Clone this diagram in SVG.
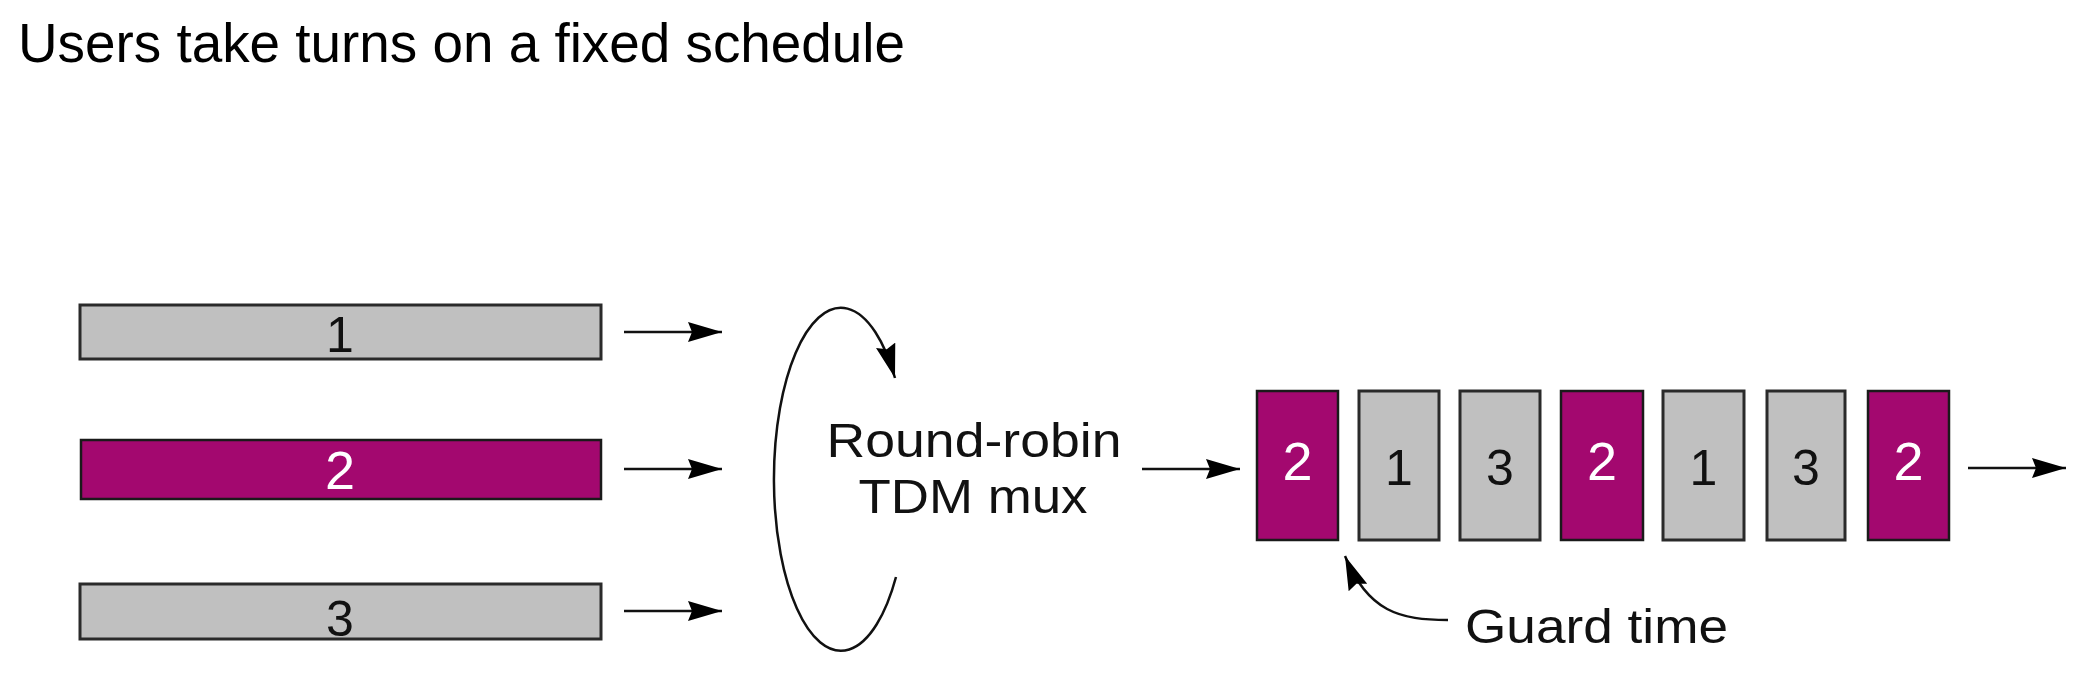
<svg xmlns="http://www.w3.org/2000/svg" width="2086" height="690" viewBox="0 0 2086 690">
  <style>
    text { font-family: "Liberation Sans", Arial, Helvetica, sans-serif; }
    .title { font-size: 56px; fill: #000; }
    .lbl { font-size: 48px; fill: #111; }
    .gray { fill: #c0c0c0; stroke: #2a2a2a; stroke-width: 3; }
    .purple { fill: #a3086f; stroke: #1a1a1a; stroke-width: 2.5; }
    .dk { font-size: 50px; fill: #111; text-anchor: middle; }
    .wt { font-size: 54px; fill: #fff; text-anchor: middle; }
    .conn { fill: none; stroke: #111; stroke-width: 2.5; }
  </style>
  <defs>
    <marker id="ah" markerUnits="userSpaceOnUse" markerWidth="34" markerHeight="20" refX="34" refY="10" orient="auto" viewBox="0 0 34 20">
      <path d="M0,0 L34,10 L0,20 L4,10 z" fill="#000"/>
    </marker>
  </defs>
  <rect width="2086" height="690" fill="#fff"/>

  <text id="title" class="title" x="18" y="62" textLength="887" lengthAdjust="spacingAndGlyphs">Users take turns on a fixed schedule</text>

  <g id="input1">
    <rect class="gray" x="80" y="305" width="521" height="54"/>
    <text class="dk" x="340" y="352">1</text>
  </g>
  <g id="input2">
    <rect class="purple" x="81" y="440" width="520" height="59"/>
    <text class="wt" x="340" y="489">2</text>
  </g>
  <g id="input3">
    <rect class="gray" x="80" y="584" width="521" height="55"/>
    <text class="dk" x="340" y="636">3</text>
  </g>

  <g id="mux">
    <text class="lbl" x="974" y="457" text-anchor="middle" textLength="295" lengthAdjust="spacingAndGlyphs">Round-robin</text>
    <text class="lbl" x="973" y="513" text-anchor="middle" textLength="229" lengthAdjust="spacingAndGlyphs">TDM mux</text>
  </g>

  <g id="slot1"><rect class="purple" x="1257" y="391" width="81" height="149"/><text class="wt" x="1297.5" y="480">2</text></g>
  <g id="slot2"><rect class="gray" x="1359" y="391" width="80" height="149"/><text class="dk" x="1399" y="485">1</text></g>
  <g id="slot3"><rect class="gray" x="1460" y="391" width="80" height="149"/><text class="dk" x="1500" y="485">3</text></g>
  <g id="slot4"><rect class="purple" x="1561" y="391" width="82" height="149"/><text class="wt" x="1602" y="480">2</text></g>
  <g id="slot5"><rect class="gray" x="1663" y="391" width="81" height="149"/><text class="dk" x="1703.5" y="485">1</text></g>
  <g id="slot6"><rect class="gray" x="1767" y="391" width="78" height="149"/><text class="dk" x="1806" y="485">3</text></g>
  <g id="slot7"><rect class="purple" x="1868" y="391" width="81" height="149"/><text class="wt" x="1908.5" y="480">2</text></g>

  <g id="guard">
    <text class="lbl" x="1465" y="643" textLength="263" lengthAdjust="spacingAndGlyphs">Guard time</text>
  </g>

  <g id="connectors">
    <line class="conn" x1="624" y1="332" x2="722" y2="332" marker-end="url(#ah)"/>
    <line class="conn" x1="624" y1="469" x2="722" y2="469" marker-end="url(#ah)"/>
    <line class="conn" x1="624" y1="611" x2="722" y2="611" marker-end="url(#ah)"/>
    <path class="conn" d="M896,577 A67,171.5 0 1 1 895,378" stroke-width="2" marker-end="url(#ah)"/>
    <line class="conn" x1="1142" y1="469" x2="1240" y2="469" marker-end="url(#ah)"/>
    <line class="conn" x1="1968" y1="468" x2="2066" y2="468" marker-end="url(#ah)"/>
    <path class="conn" d="M1448,620 C1400,620 1368,612 1345,556" marker-end="url(#ah)"/>
  </g>
</svg>
